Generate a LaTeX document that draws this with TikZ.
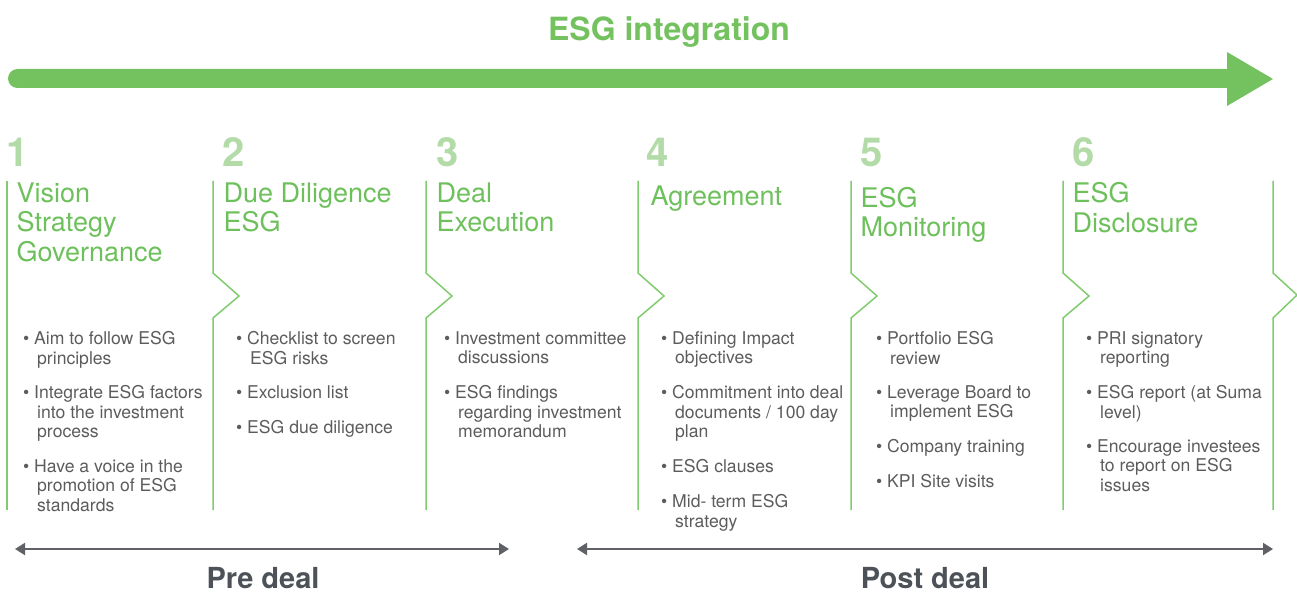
\documentclass[tikz,border=0pt]{standalone}
\usepackage{fontspec}
\setmainfont{TeX Gyre Heros}
\usetikzlibrary{arrows.meta,positioning}
\definecolor{esggreen}{HTML}{74C25F}
\definecolor{headgreen}{HTML}{6DC05B}
\definecolor{numgreen}{HTML}{B3DBA8}
\definecolor{linegreen}{HTML}{7FCB6E}
\definecolor{txtgray}{HTML}{5C5C5C}
\definecolor{arrgray}{HTML}{606167}
\definecolor{dealgray}{HTML}{4D5158}
\newcommand\sbul{\hspace*{-3pt}\llap{\textbullet\hspace{5pt}}}

\begin{document}
\begin{tikzpicture}[x=1pt,y=-1pt,
	num/.style={anchor=base west,inner sep=0,text=numgreen,font=\fontsize{40}{40}\selectfont\bfseries},
	head/.style={anchor=north west,inner sep=0,align=left,text=headgreen,font=\fontsize{27}{29.5}\selectfont},
	item/.style={anchor=north west,inner sep=0,align=left,text=txtgray,font=\fontsize{17.6}{19.7}\selectfont},
	sep/.style={draw=linegreen,line width=1.5},
	deal/.style={draw=arrgray,line width=2,{Triangle[length=10,width=12]}-{Triangle[length=10,width=12]}}]
	\useasboundingbox (0,0) rectangle (1297,593);
	\node (title) at (669,41)[anchor=base,text=esggreen,font=\fontsize{32}{33}\selectfont\bfseries] {ESG integration};
	\fill[esggreen,rounded corners=9.5] (8,69) rectangle (1240,88);
	\fill[esggreen] (1227,52)--(1273,79)--(1227,106)--cycle;
	\draw[linegreen,line width=2.5] (7,181)--(7,510);
	\draw[sep] (213,181)--(213,273)--(239,296)--(213,318)--(213,510);
	\draw[sep] (426,181)--(426,273)--(452,296)--(426,318)--(426,510);
	\draw[sep] (638,181)--(638,273)--(664,296)--(638,318)--(638,510);
	\draw[sep] (851,181)--(851,273)--(877,296)--(851,318)--(851,510);
	\draw[sep] (1063,181)--(1063,273)--(1089,296)--(1063,318)--(1063,510);
	\draw[sep] (1273,181)--(1273,273)--(1297,295)--(1273,318)--(1273,510);
	\node (num1) at (6,167)[num] {1};
	\node (num2) at (222.5,167)[num] {2};
	\node (num3) at (436.5,167)[num] {3};
	\node (num4) at (646.5,167)[num] {4};
	\node (num5) at (860.5,167)[num] {5};
	\node (num6) at (1072.5,167)[num] {6};
	\node (head1) at (16.5,182.5)[head] {Vision\\Strategy\\Governance};
	\node (head2) at (223.5,182.5)[head] {Due Diligence\\ESG};
	\node (head3) at (436.5,182.5)[head] {Deal\\Execution};
	\node (head4) at (650.5,186)[head] {Agreement};
	\node (head5) at (860.5,187)[head] {ESG\\Monitoring};
	\node (head6) at (1072.5,182.5)[head] {ESG\\Disclosure};
	\node (c1a) at (37,331)[item] {\sbul Aim to follow ESG\\principles};
	\node (c1b) at (37,385)[item] {\sbul Integrate ESG factors\\into the investment\\process};
	\node (c1c) at (37,459)[item] {\sbul Have a voice in the\\promotion of ESG\\standards};
	\node (c2a) at (250,331)[item] {\sbul Checklist to screen\\ESG risks};
	\node (c2b) at (250,385)[item] {\sbul Exclusion list};
	\node (c2c) at (250,420)[item] {\sbul ESG due diligence};
	\node (c3a) at (458,331)[item] {\sbul Investment committee\\discussions};
	\node (c3b) at (458,385)[item] {\sbul ESG findings\\regarding investment\\memorandum};
	\node (c4a) at (675,331)[item] {\sbul Defining Impact\\objectives};
	\node (c4b) at (675,385)[item] {\sbul Commitment into deal\\documents / 100 day\\plan};
	\node (c4c) at (675,459)[item] {\sbul ESG clauses};
	\node (c4d) at (675,494)[item] {\sbul Mid- term ESG\\strategy};
	\node (c5a) at (890,331)[item] {\sbul Portfolio ESG\\review};
	\node (c5b) at (890,385)[item] {\sbul Leverage Board to\\implement ESG};
	\node (c5c) at (890,439)[item] {\sbul Company training};
	\node (c5d) at (890,474)[item] {\sbul KPI Site visits};
	\node (c6a) at (1100,331)[item] {\sbul PRI signatory\\reporting};
	\node (c6b) at (1100,385)[item] {\sbul ESG report (at Suma\\level)};
	\node (c6c) at (1100,439)[item] {\sbul Encourage investees\\to report on ESG\\issues};
	\coordinate (pre-l) at (15,549);
	\coordinate (pre-r) at (509,549);
	\coordinate (post-l) at (577,549);
	\coordinate (post-r) at (1273,549);
	\draw[deal] (pre-l)--(pre-r);
	\draw[deal] (post-l)--(post-r);
	\node (pre) at (263,588)[anchor=base,text=dealgray,font=\fontsize{29}{30}\selectfont\bfseries] {Pre deal};
	\node (post) at (925,588)[anchor=base,text=dealgray,font=\fontsize{29}{30}\selectfont\bfseries] {Post deal};
\end{tikzpicture}
\end{document}
